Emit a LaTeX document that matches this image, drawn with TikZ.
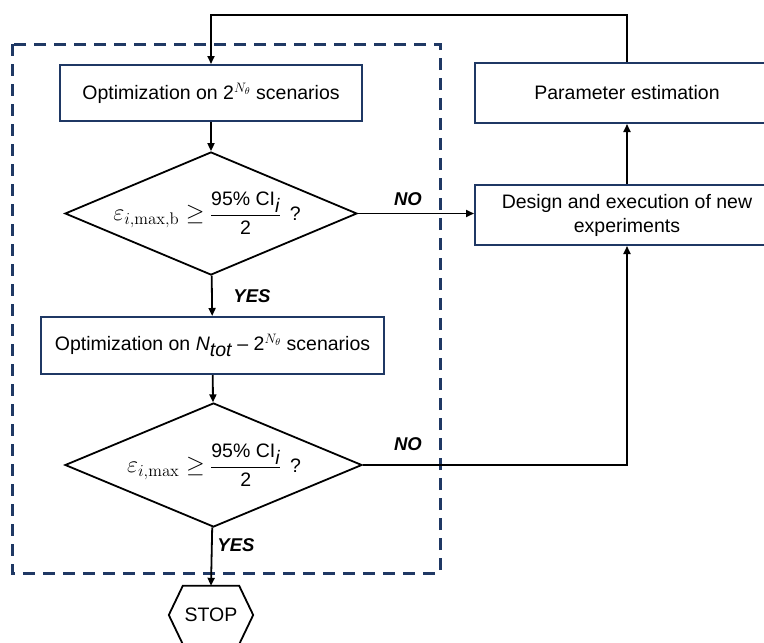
\RequirePackage{fix-cm}
\documentclass[tikz,border=0pt]{standalone}
\usepackage{amsmath}
\usepackage[no-math]{fontspec}
\setmainfont{Liberation Sans}
\usetikzlibrary{arrows.meta,shapes.geometric,calc}
\definecolor{navy}{HTML}{1F3864}
\newcommand{\epsmath}[1]{{\fontsize{24}{28}\selectfont$#1$}}
\begin{document}
\begin{tikzpicture}[x=1pt,y=-1pt,
  font=\fontsize{19.5}{24}\selectfont,
  box/.style={draw=navy,line width=2pt,inner sep=0pt,align=center},
  dia/.style={draw=black,line width=1.8pt,shape=diamond,inner sep=0pt},
  lbl/.style={font=\fontsize{18.5}{22}\selectfont\bfseries\itshape},
  arr/.style={draw=black,line width=1.8pt,-{Triangle[length=8pt,width=7pt]}},
  ln/.style={draw=black,line width=1.8pt}]
\useasboundingbox (0,0) rectangle (764,643);
% dashed group frame
\draw[navy,line width=3pt,dash pattern=on 12pt off 8pt] (12,44) rectangle (440,573);
% boxes
\node[box,minimum width=302pt,minimum height=56pt] (b1) at (211,93) {Optimization on 2$^{N_\theta}$ scenarios};
\node[dia,minimum width=292pt,minimum height=123pt] (d1) at (211,213.5) {};
\node (t1) at (207,213) {\epsmath{\varepsilon_{i,\mathrm{max,b}} \geq} $\dfrac{\mbox{95\% CI}_{\mbox{\itshape i}}}{\mbox{2}}$\, ?};
\node[box,minimum width=343pt,minimum height=57pt] (b2) at (212.5,345.5) {Optimization on \textit{N}$_{\mbox{\itshape tot}}$ – 2$^{N_\theta}$ scenarios};
\node[dia,minimum width=297pt,minimum height=124pt] (d2) at (213.5,465) {};
\node (t2) at (214,465) {\epsmath{\varepsilon_{i,\mathrm{max}} \geq} $\dfrac{\mbox{95\% CI}_{\mbox{\itshape i}}}{\mbox{2}}$\, ?};
\node[box,minimum width=304pt,minimum height=60pt] (pe) at (627,93) {Parameter estimation};
\node[box,minimum width=304pt,minimum height=60pt] (de) at (627,215) {Design and execution of new\\experiments};
\node[minimum width=84pt,minimum height=58pt,inner sep=0pt] (stop) at (211,615) {STOP};
\draw[ln] ($(stop.north west)+(14,0)$) -- ($(stop.north east)+(-14,0)$) -- (stop.east)
  -- ($(stop.south east)+(-14,0)$) -- ($(stop.south west)+(14,0)$) -- (stop.west) -- cycle;
% labels
\node[lbl] (yes1) at (252,296) {YES};
\node[lbl] (yes2) at (236,545) {YES};
\node[lbl] (no1) at (408,199) {NO};
\node[lbl] (no2) at (408,444) {NO};
% connectors
\draw[arr] (b1) -- (d1);
\draw[arr] (d1) -- (b2);
\draw[arr] (b2) -- (d2);
\draw[arr] (d2) -- (stop.north);
\draw[arr] (d1.east) -- (d1.east -| de.west);
\draw[arr] (d2.east) -| (de.south);
\draw[arr] (de) -- (pe);
\coordinate (top) at (627,15);
\draw[arr] (pe.north) -- (top) -| (b1.north);
\end{tikzpicture}
\end{document}
